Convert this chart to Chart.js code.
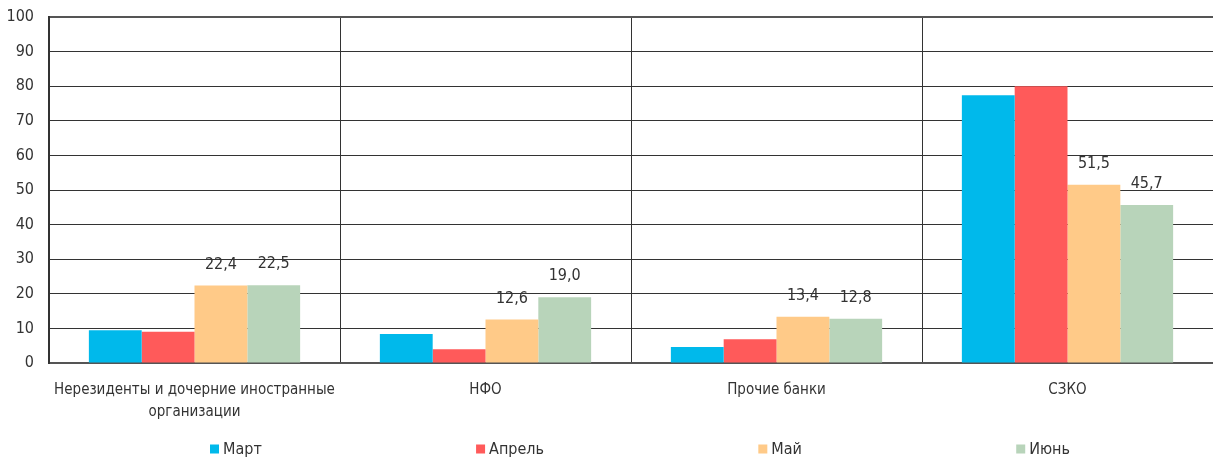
<!DOCTYPE html>
<html lang="ru">

<head>
  <meta charset="UTF-8">
  <title>Структура по контрагентам</title>
  <script src="https://cdn.jsdelivr.net/npm/chart.js@4.4.1/dist/chart.umd.min.js"></script>
  <style>
    body { margin: 0; background: #fff; overflow: hidden; }
  </style>
</head>

<body>
  <canvas id="chart" width="1213" height="459"></canvas>
  <script>
    // данные
    var categories = [
      ['Нерезиденты и дочерние иностранные', 'организации'],
      'НФО',
      'Прочие банки',
      'СЗКО'
    ];
    var months = ['Март', 'Апрель', 'Май', 'Июнь'];
    var march = [9.5, 8.4, 4.6, 77.4];
    var april = [9.0, 4.0, 6.9, 80.0];
    var may = [22.4, 12.6, 13.4, 51.5];
    var june = [22.5, 19.0, 12.8, 45.7];

    var colors = ['#00b9eb', '#ff5a5a', '#ffca88', '#b8d4ba'];
    var labeled = [2, 3]; // подписи только у мая и июня
    var FONT = "'Liberation Sans Narrow', 'DejaVu Sans Condensed', Roboto, sans-serif";

    // подписи значений над столбцами
    var valueLabels = {
      id: 'valueLabels',
      afterDatasetsDraw: function (chart) {
        var ctx = chart.ctx;
        ctx.save();
        ctx.font = '16px ' + FONT;
        ctx.fillStyle = '#333';
        ctx.textAlign = 'center';
        ctx.textBaseline = 'middle';
        labeled.forEach(function (di) {
          var meta = chart.getDatasetMeta(di);
          meta.data.forEach(function (bar, i) {
            var v = chart.data.datasets[di].data[i];
            ctx.fillText(v.toFixed(1).replace('.', ','), bar.x, bar.y - 21);
          });
        });
        ctx.restore();
      }
    };

    // легенда внизу, элементы разнесены по ширине
    var spreadLegend = {
      id: 'spreadLegend',
      afterDraw: function (chart) {
        var ctx = chart.ctx;
        var ds = chart.data.datasets;
        ctx.save();
        ctx.font = '16px ' + FONT;
        var box = 9, gap = 4;
        var widths = ds.map(function (d) { return box + gap + ctx.measureText(d.label).width; });
        var start = 210, end = 1070, y = 449;
        var total = widths.reduce(function (a, b) { return a + b; }, 0);
        var space = (end - start - total) / (ds.length - 1);
        var x = start;
        ds.forEach(function (d, i) {
          ctx.fillStyle = d.backgroundColor;
          ctx.fillRect(x, y - box / 2, box, box);
          ctx.fillStyle = '#333';
          ctx.textBaseline = 'middle';
          ctx.fillText(d.label, x + box + gap, y + 1);
          x += widths[i] + space;
        });
        ctx.restore();
      }
    };

    var series = [march, april, may, june];

    new Chart(document.getElementById('chart'), {
      type: 'bar',
      data: {
        labels: categories,
        datasets: series.map(function (s, i) {
          return {
            label: months[i],
            data: s,
            backgroundColor: colors[i],
            borderWidth: 0,
            categoryPercentage: 0.726,
            barPercentage: 1.0
          };
        })
      },
      options: {
        responsive: false,
        animation: false,
        // правая граница области уходит за край холста
        layout: { padding: { top: 17, right: -6, left: 0, bottom: 0 } },
        plugins: {
          legend: { display: false },
          tooltip: { enabled: false }
        },
        scales: {
          x: {
            grid: {
              offset: true,
              drawTicks: false,
              color: '#333',
              lineWidth: 1
            },
            border: { display: true, color: '#555', width: 2 },
            ticks: {
              autoSkip: false,
              padding: 16,
              color: '#333',
              font: { family: FONT, size: 15, lineHeight: 1.45 },
              maxRotation: 0
            },
            afterFit: function (scale) { scale.height = 96; }
          },
          y: {
            min: 0,
            max: 100,
            ticks: {
              stepSize: 10,
              padding: 15,
              color: '#333',
              font: { family: FONT, size: 16 }
            },
            grid: {
              drawTicks: false,
              color: function (c) { return c.tick && c.tick.value === 100 ? '#555' : '#333'; },
              lineWidth: function (c) { return c.tick && c.tick.value === 100 ? 2 : 1; }
            },
            border: { display: true, color: '#333', width: 2 },
            afterFit: function (scale) {
              scale.width = 49;
              scale.paddingTop = 0;
              scale.paddingBottom = 0;
            }
          }
        }
      },
      plugins: [valueLabels, spreadLegend]
    });
  </script>

</body>

</html>
